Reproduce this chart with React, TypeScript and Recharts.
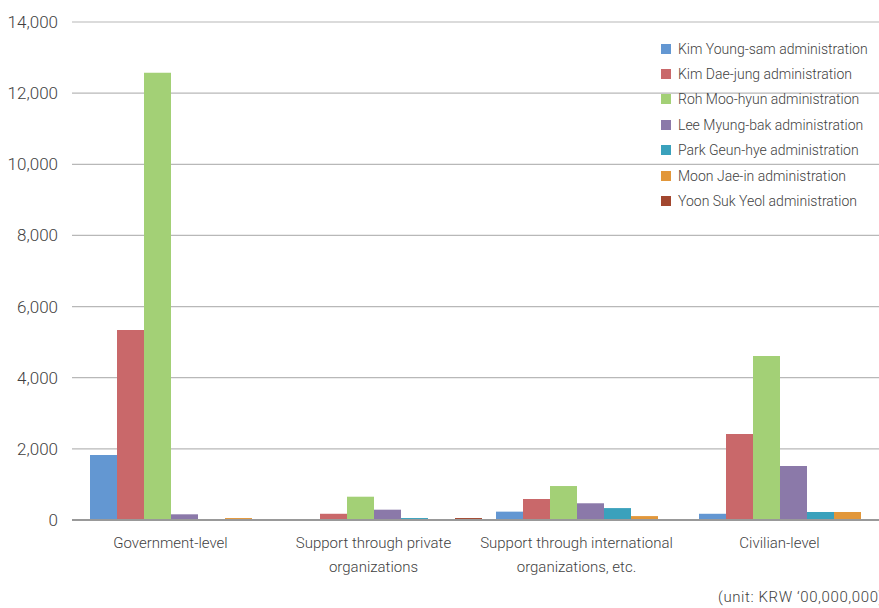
import { BarChart, Bar, XAxis, YAxis, CartesianGrid } from 'recharts';

const categories = [
  'Government-level',
  'Support through private organizations',
  'Support through international organizations, etc.',
  'Civilian-level',
];

// tick labels wrapped the same way as the reference
const tickLines: Record<string, string[]> = {
  'Government-level': ['Government-level'],
  'Support through private organizations': ['Support through private', 'organizations'],
  'Support through international organizations, etc.': [
    'Support through international',
    'organizations, etc.',
  ],
  'Civilian-level': ['Civilian-level'],
};

const kimYoungSam = [1830, 0, 235, 175];
const kimDaeJung = [5340, 175, 590, 2420];
const rohMooHyun = [12570, 655, 955, 4610];
const leeMyungBak = [160, 290, 470, 1520];
const parkGeunHye = [0, 55, 335, 225];
const moonJaeIn = [55, 0, 110, 225];
const yoonSukYeol = [0, 55, 0, 25];

const yTicks = [0, 2000, 4000, 6000, 8000, 10000, 12000, 14000];

const series = [
  { key: 'kys', name: 'Kim Young-sam administration', color: '#6397d2', values: kimYoungSam },
  { key: 'kdj', name: 'Kim Dae-jung administration', color: '#c9686a', values: kimDaeJung },
  { key: 'rmh', name: 'Roh Moo-hyun administration', color: '#a3d076', values: rohMooHyun },
  { key: 'lmb', name: 'Lee Myung-bak administration', color: '#8b79a9', values: leeMyungBak },
  { key: 'pgh', name: 'Park Geun-hye administration', color: '#3aa1bc', values: parkGeunHye },
  { key: 'mji', name: 'Moon Jae-in administration', color: '#e2973a', values: moonJaeIn },
  { key: 'ysy', name: 'Yoon Suk Yeol administration', color: '#a2472f', values: yoonSukYeol },
];

const data = categories.map((c, i) => {
  const row: Record<string, string | number> = { category: c };
  series.forEach((s) => {
    row[s.key] = s.values[i];
  });
  return row;
});

const FONT = 'Roboto, "Noto Sans", sans-serif';

function CategoryTick(props: any) {
  const { x, y, payload } = props;
  const lines = tickLines[payload.value] || [payload.value];
  return (
    <text
      x={x - 15}
      y={y + 20}
      textAnchor="middle"
      fill="#3f3f3f"
      fontSize={15}
      fontFamily={FONT}
      fontWeight={300}
    >
      {lines.map((l, i) => (
        <tspan key={i} x={x - 15} dy={i === 0 ? 0 : 24}>
          {l}
        </tspan>
      ))}
    </text>
  );
}

function LegendBox() {
  return (
    <div
      style={{
        position: 'absolute',
        left: 661,
        top: 36,
        fontFamily: FONT,
        fontSize: 14,
        fontWeight: 300,
        color: '#3f3f3f',
      }}
    >
      {series.map((s) => (
        <div
          key={s.key}
          style={{ display: 'flex', alignItems: 'center', height: 25.4, whiteSpace: 'nowrap' }}
        >
          <span
            style={{
              display: 'inline-block',
              width: 10,
              height: 10,
              background: s.color,
              marginRight: 7,
            }}
          />
          {s.name}
        </div>
      ))}
    </div>
  );
}

export default function App() {
  return (
    <div
      style={{
        position: 'fixed',
        left: 0,
        top: 0,
        width: 879,
        height: 608,
        overflow: 'hidden',
        background: '#fff',
      }}
    >
      <BarChart
        width={896}
        height={608}
        data={data}
        margin={{ top: 22, right: 0, left: 0, bottom: 0 }}
        barCategoryGap={6}
        barGap={0}
      >
        <CartesianGrid vertical={false} stroke="#b8b8b8" strokeWidth={1.2} />
        <XAxis
          dataKey="category"
          height={88}
          padding={{ left: 12, right: 0 }}
          tickLine={false}
          axisLine={{ stroke: '#999', strokeWidth: 2 }}
          tick={<CategoryTick />}
          interval={0}
        />
        <YAxis
          width={72}
          domain={[0, 14000]}
          ticks={yTicks}
          axisLine={false}
          tickLine={false}
          tickMargin={8}
          tickFormatter={(v: number) => v.toLocaleString('en-US')}
          tick={{ fill: '#3f3f3f', fontSize: 17, fontFamily: FONT, fontWeight: 300 }}
        />
        {series.map((s) => (
          <Bar
            key={s.key}
            dataKey={s.key}
            name={s.name}
            fill={s.color}
            isAnimationActive={false}
          />
        ))}
      </BarChart>
      <LegendBox />
      <div
        style={{
          position: 'absolute',
          left: 718,
          top: 588,
          fontFamily: FONT,
          fontSize: 15,
          fontWeight: 300,
          letterSpacing: 0.6,
          color: '#3f3f3f',
          whiteSpace: 'nowrap',
        }}
      >
        (unit: KRW ‘00,000,000)
      </div>
    </div>
  );
}
